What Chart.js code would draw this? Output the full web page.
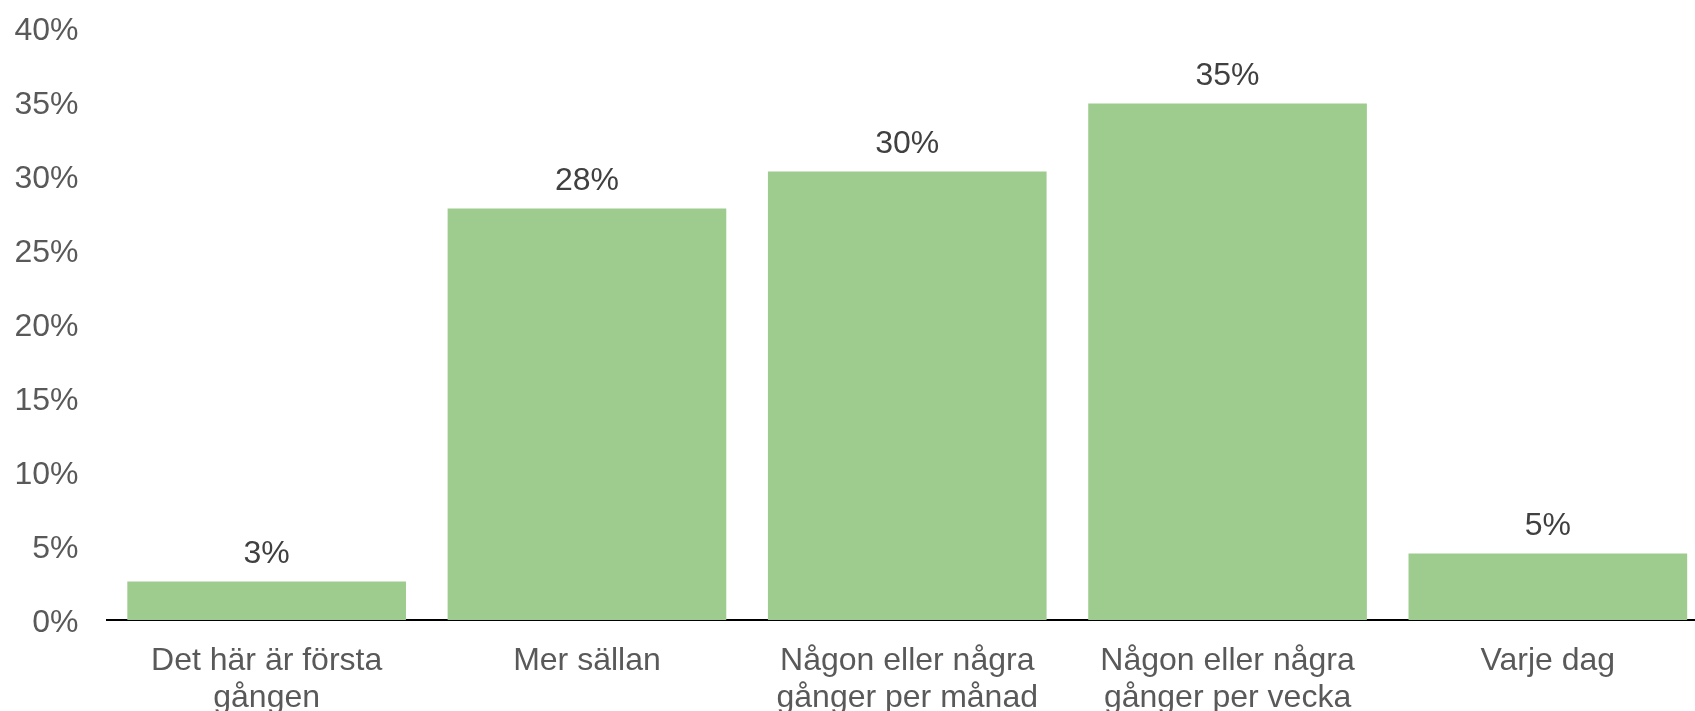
<!DOCTYPE html>
<html>
<head>
<meta charset="utf-8">
<script src="https://cdn.jsdelivr.net/npm/chart.js@4/dist/chart.umd.min.js"></script>
<style>
  html, body { margin: 0; padding: 0; overflow: hidden; background: #fff; }
  #wrap { width: 1708px; height: 711px; }
</style>
</head>
<body>
<div id="wrap"><canvas id="c" width="1708" height="711"></canvas></div>
<script>
const categories = [
  ["Det här är första", "gången"],
  ["Mer sällan"],
  ["Någon eller några", "gånger per månad"],
  ["Någon eller några", "gånger per vecka"],
  ["Varje dag"]
];
const values = [2.6, 27.8, 30.3, 34.9, 4.5];
const valueLabels = ["3%", "28%", "30%", "35%", "5%"];
const yTicks = [0, 5, 10, 15, 20, 25, 30, 35, 40];

const FONT = "'Liberation Sans', Arial, sans-serif";
const FS = 32;

const dataLabelPlugin = {
  id: 'dataLabels',
  afterDatasetsDraw(chart) {
    const ctx = chart.ctx;
    const meta = chart.getDatasetMeta(0);
    ctx.save();
    ctx.font = FS + "px " + FONT;
    ctx.fillStyle = '#404040';
    ctx.textAlign = 'center';
    ctx.textBaseline = 'middle';
    meta.data.forEach((bar, i) => {
      ctx.fillText(valueLabels[i], bar.x, bar.y - 27);
    });
    ctx.restore();
  }
};

new Chart(document.getElementById('c'), {
  type: 'bar',
  data: {
    labels: categories,
    datasets: [{
      data: values,
      backgroundColor: '#9ECC8F',
      borderWidth: 0,
      barPercentage: 0.87,
      categoryPercentage: 1.0
    }]
  },
  options: {
    responsive: false,
    animation: false,
    events: [],
    layout: { padding: { top: 28, left: 0, right: 0, bottom: 0 } },
    plugins: { legend: { display: false }, tooltip: { enabled: false } },
    scales: {
      x: {
        grid: { display: false, drawTicks: false },
        border: { display: true, color: '#000', width: 2 },
        ticks: {
          color: '#595959',
          font: { family: FONT, size: FS, lineHeight: 1.14 },
          padding: 23,
          maxRotation: 0,
          autoSkip: false
        },
        afterFit(scale) { scale.height = 91; }
      },
      y: {
        min: 0, max: 40,
        grid: { display: false, drawTicks: false },
        border: { display: false },
        afterBuildTicks(scale) { scale.ticks = yTicks.map(v => ({ value: v })); },
        ticks: {
          color: '#595959',
          font: { family: FONT, size: FS },
          padding: 28,
          labelOffset: 3,
          callback: v => v + '%'
        },
        afterFit(scale) {
          scale.width = 106.5;
          scale.paddingTop = 0;
          scale.paddingBottom = 0;
        }
      }
    }
  },
  plugins: [dataLabelPlugin]
});
</script>
</body>
</html>
